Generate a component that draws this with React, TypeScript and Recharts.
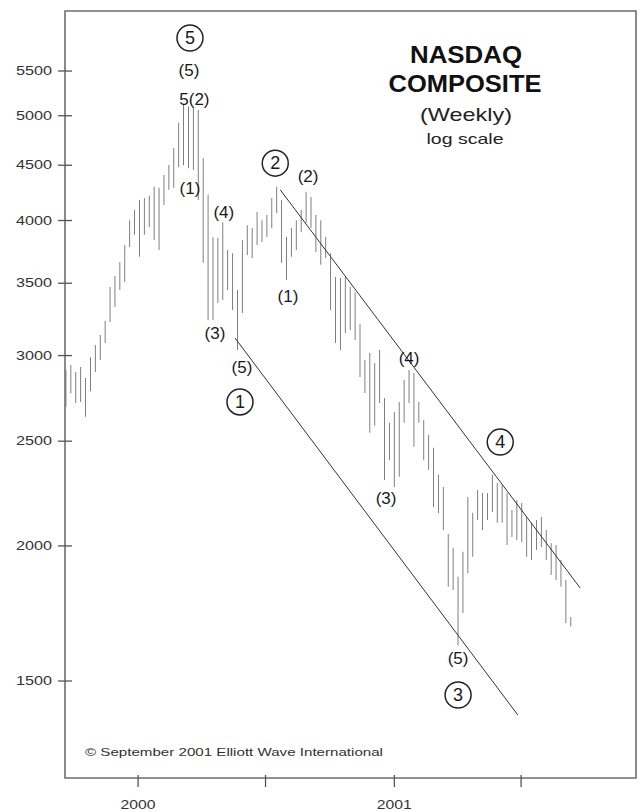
import {
  Bar,
  ComposedChart,
  Line,
  ReferenceArea,
  ReferenceDot,
  XAxis,
  YAxis,
} from "recharts";

// weekly bars, first week starts 1999-09-20
const START = Date.UTC(1999, 8, 20);
const WEEK = 7 * 24 * 3600 * 1000;
const weekOf = (y: number, m: number, d: number) => (Date.UTC(y, m, d) - START) / WEEK;

const highs = [
  2909, 2940, 2897, 2928, 2860, 2990, 3068, 3134, 3229, 3472, 3554, 3662, 3797, 4003, 4091,
  4179, 4197, 4216, 4298, 4290, 4408, 4502, 4668, 4925, 5130, 5100, 5085, 5063, 4570, 4225,
  3860, 3855, 3985, 3757, 3730, 3450, 3838, 3960, 3937, 4073, 4003, 4047, 4197, 4298, 4179,
  3862, 3937, 4003, 4091, 4253, 4206, 4047, 4003, 3862, 3730, 3547, 3539, 3547, 3472, 3434,
  3208, 2972, 3016, 2953, 3036, 2741, 2600, 2660, 2718, 2848, 2909, 2890, 2718, 2616, 2534,
  2465, 2327, 2267, 2051, 1992, 1873, 1975, 2220, 2147, 2253, 2239, 2239, 2327, 2288, 2277,
  2239, 2159, 2206, 2192, 2127, 2101, 2114, 2127, 2069, 2012, 2004, 1941, 1860, 1719,
];
const lows = [
  2690, 2769, 2712, 2718, 2633, 2780, 2897, 2972, 3081, 3222, 3327, 3450, 3509, 3781, 3880,
  3702, 3880, 3945, 3838, 3757, 4135, 4271, 4289, 4480, 4500, 4470, 4454, 4179, 3655, 3236,
  3236, 3356, 3377, 3450, 3306, 3036, 3285, 3717, 3694, 3797, 3822, 3862, 3937, 4064, 3655,
  3524, 3702, 3757, 3903, 3978, 3937, 3740, 3640, 3694, 3306, 3081, 3036, 3148, 3168, 3101,
  2866, 2770, 2545, 2583, 2712, 2302, 2402, 2267, 2317, 2600, 2712, 2470, 2600, 2402, 2352,
  2173, 2145, 2069, 1833, 1821, 1619, 1734, 1887, 1954, 2114, 2069, 2114, 2150, 2101, 2101,
  2004, 2038, 2025, 2016, 1954, 1941, 1983, 1996, 1941, 1880, 1860, 1833, 1697, 1685,
];

const priceTicks = [1500, 2000, 2500, 3000, 3500, 4000, 4500, 5000, 5500];
const dateTicks = [weekOf(2000, 0, 1), weekOf(2000, 6, 1), weekOf(2001, 0, 1), weekOf(2001, 6, 1)];
const dateLabels = ["2000", "", "2001", ""];

// channel lines (week, price)
const upperChannel = [
  { i: 43.7, v: 4271 },
  { i: 104.9, v: 1829 },
];
const lowerChannel = [
  { i: 34.5, v: 3114 },
  { i: 92.2, v: 1395 },
];

// wave labels
const waveLabels = [
  { i: 25.3, v: 5901, text: "5", circle: true },
  { i: 25.1, v: 5513, text: "(5)", circle: false },
  { i: 26.2, v: 5180, text: "5(2)", circle: false },
  { i: 25.3, v: 4287, text: "(1)", circle: false },
  { i: 32.2, v: 4070, text: "(4)", circle: false },
  { i: 30.4, v: 3149, text: "(3)", circle: false },
  { i: 35.9, v: 2925, text: "(5)", circle: false },
  { i: 35.5, v: 2718, text: "1", circle: true },
  { i: 42.7, v: 4520, text: "2", circle: true },
  { i: 49.4, v: 4397, text: "(2)", circle: false },
  { i: 45.3, v: 3407, text: "(1)", circle: false },
  { i: 70.0, v: 2985, text: "(4)", circle: false },
  { i: 65.3, v: 2214, text: "(3)", circle: false },
  { i: 88.6, v: 2495, text: "4", circle: true },
  { i: 80.0, v: 1575, text: "(5)", circle: false },
  { i: 80.0, v: 1456, text: "3", circle: true },
];

const data = highs.map((h, i) => ({ i, hl: [lows[i], h] }));

const X_DOMAIN = [-0.2, 116.3];
const Y_DOMAIN = [1220, 6250];
const FONT = "Liberation Sans, Arial, sans-serif";

const YTick = (props: any) => {
  const { x, y, payload } = props;
  const ax = x + 13;
  return (
    <g>
      <line x1={ax - 7} x2={ax + 7} y1={y} y2={y} stroke="#555" strokeWidth={1.3} />
      <text
        x={x}
        y={y + 4}
        textAnchor="end"
        fontSize={12}
        fontFamily={FONT}
        fill="#333"
        textLength={36}
        lengthAdjust="spacingAndGlyphs"
      >
        {payload.value}
      </text>
    </g>
  );
};

const XTick = (props: any) => {
  const { x, y, payload } = props;
  const ay = y - 15;
  const idx = dateTicks.findIndex((t) => Math.abs(t - payload.value) < 0.01);
  const label = idx >= 0 ? dateLabels[idx] : "";
  return (
    <g>
      <line x1={x} x2={x} y1={ay - 3} y2={ay + 9} stroke="#555" strokeWidth={1.3} />
      {label && (
        <text
          x={x}
          y={ay + 31}
          textAnchor="middle"
          fontSize={12}
          fontFamily={FONT}
          fill="#333"
          textLength={35}
          lengthAdjust="spacingAndGlyphs"
        >
          {label}
        </text>
      )}
    </g>
  );
};

const waveShape = (lab: (typeof waveLabels)[number]) => (props: any) => {
  const { cx, cy } = props;
  return (
    <g>
      {lab.circle && <circle cx={cx} cy={cy} r={13} fill="#fff" stroke="#222" strokeWidth={1.5} />}
      <text
        x={cx}
        y={cy + 6}
        textAnchor="middle"
        fontSize={lab.circle ? 18 : 17}
        fontFamily={FONT}
        fill="#1a1a1a"
      >
        {lab.text}
      </text>
    </g>
  );
};

export default function App() {
  return (
    <div style={{ position: "absolute", left: 0, top: 0, width: 641, height: 811, background: "#fff" }}>
      <ComposedChart
        width={641}
        height={811}
        data={data}
        margin={{ top: 11, right: 5, left: 0, bottom: 0 }}
      >
        <XAxis
          dataKey="i"
          type="number"
          domain={X_DOMAIN}
          allowDataOverflow
          ticks={dateTicks}
          interval={0}
          tick={<XTick />}
          tickLine={false}
          axisLine={false}
          tickSize={9}
          tickMargin={6}
          height={33}
        />
        <YAxis
          type="number"
          scale="log"
          domain={Y_DOMAIN}
          allowDataOverflow
          ticks={priceTicks}
          interval={0}
          tick={<YTick />}
          tickLine={false}
          axisLine={false}
          tickSize={7}
          tickMargin={6}
          width={65}
        />
        <ReferenceArea
          x1={X_DOMAIN[0]}
          x2={X_DOMAIN[1]}
          y1={Y_DOMAIN[0]}
          y2={Y_DOMAIN[1]}
          fill="none"
          stroke="#6e6e6e"
          strokeWidth={1.6}
          ifOverflow="visible"
        />
        <Bar dataKey="hl" fill="#6f6f6f" barSize={2} isAnimationActive={false} />
        <Line
          data={upperChannel}
          dataKey="v"
          stroke="#333"
          strokeWidth={1}
          dot={false}
          isAnimationActive={false}
        />
        <Line
          data={lowerChannel}
          dataKey="v"
          stroke="#333"
          strokeWidth={1}
          dot={false}
          isAnimationActive={false}
        />
        {waveLabels.map((lab, k) => (
          <ReferenceDot
            key={k}
            x={lab.i}
            y={lab.v}
            r={0}
            ifOverflow="visible"
            shape={waveShape(lab)}
          />
        ))}
      </ComposedChart>
      <svg
        width={641}
        height={811}
        style={{ position: "absolute", left: 0, top: 0, pointerEvents: "none" }}
        fontFamily={FONT}
      >
        <text x={466} y={63} textAnchor="middle" fontSize={23} fontWeight="bold" fill="#111" textLength={112} lengthAdjust="spacingAndGlyphs">
          NASDAQ
        </text>
        <text x={465} y={92} textAnchor="middle" fontSize={23} fontWeight="bold" fill="#111" textLength={153} lengthAdjust="spacingAndGlyphs">
          COMPOSITE
        </text>
        <text x={466} y={121} textAnchor="middle" fontSize={19} fill="#222" textLength={92} lengthAdjust="spacingAndGlyphs">
          (Weekly)
        </text>
        <text x={465} y={144} textAnchor="middle" fontSize={15} fill="#222" textLength={77} lengthAdjust="spacingAndGlyphs">
          log scale
        </text>
        <text x={85} y={756} fontSize={11} fill="#333" textLength={298} lengthAdjust="spacingAndGlyphs">
          © September 2001 Elliott Wave International
        </text>
      </svg>
    </div>
  );
}
